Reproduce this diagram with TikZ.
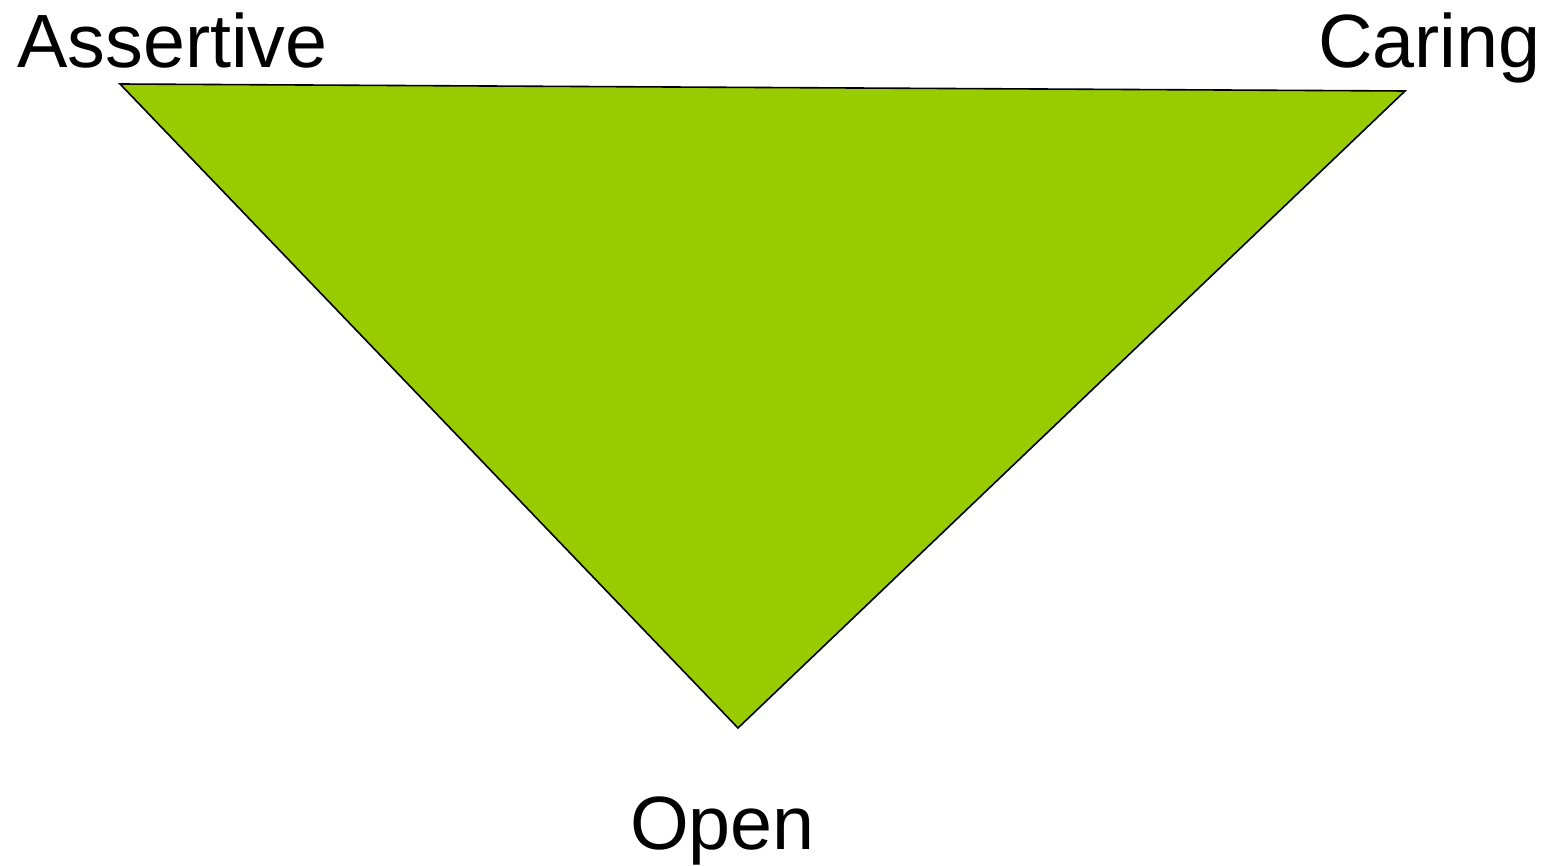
\documentclass[tikz,border=0pt]{standalone}
\usepackage{fontspec}
\setmainfont{Liberation Sans}
\definecolor{trigreen}{HTML}{99CC00}
\begin{document}
\begin{tikzpicture}[x=1pt,y=-1pt,
  lbl/.style={anchor=base west,inner sep=0pt,font=\fontsize{75.5}{80}\selectfont}]
\useasboundingbox (0,0) rectangle (1548,866);
\coordinate (A) at (120,84);
\coordinate (C) at (1405,91);
\coordinate (O) at (738,728);
\fill[trigreen,draw=black,line width=1.6pt,line join=miter] (A) -- (C) -- (O) -- cycle;
\node[lbl] (tA) at (17,68) {Assertive};
\node[lbl] (tC) at (1318,68) {Caring};
\node[lbl] (tO) at (630,849) {Open};
\end{tikzpicture}
\end{document}
